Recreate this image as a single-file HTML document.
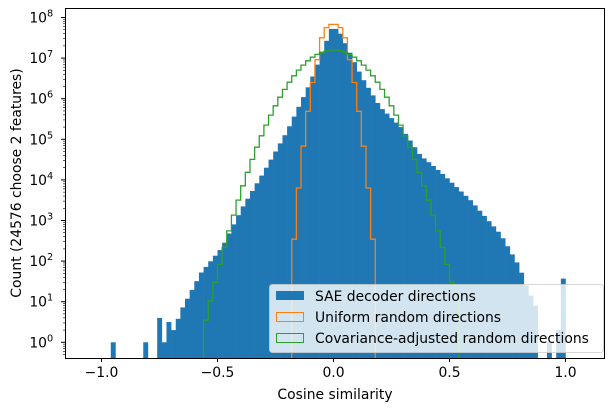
<!DOCTYPE html>
<html><head><meta charset="utf-8"><style>
body{margin:0;background:#fff;}
svg{display:block;font-family:"DejaVu Sans","Liberation Sans",sans-serif;}
</style></head><body>
<svg id="s" width="611" height="411" xmlns="http://www.w3.org/2000/svg"></svg>
<script>
var s=document.getElementById('s');
var X=function(v){return 333.5+v*232;};
var Y=function(l){return 342.3-l*40.6;};
var B=358;
function interp(pts,v){
 if(v<pts[0][0]||v>pts[pts.length-1][0])return null;
 for(var i=0;i<pts.length-1;i++){var a=pts[i],b=pts[i+1];
  if(v>=a[0]&&v<=b[0]){return a[1]+(b[1]-a[1])*(v-a[0])/(b[0]-a[0]);}}
 return null;}
var blue=[[-0.69,0.3],[-0.65,0.86],[-0.57,1.72],[-0.48,2.34],[-0.395,3.3],[-0.3,4.2],[-0.2,5.2],[-0.1,6.4],[-0.01,7.72],[0.01,7.72],[0.03,7.6],[0.12,6.55],[0.2,5.8],[0.29,5.3],[0.375,4.6],[0.46,4.2],[0.59,3.5],[0.72,2.66],[0.8,1.87],[0.83,1.4],[0.87,0.9],[0.89,0.3]];
var extra={"-0.95":0,"-0.81":0,"-0.75":0.6,"-0.73":0,"-0.71":0.5,"0.93":0,"0.97":0.3,"0.99":1.57};
var h='';
for(var i=0;i<100;i++){
 var a=-1+i*0.02,c=a+0.01,k=c.toFixed(2);
 var l=interp(blue,c); if(extra[k]!==undefined)l=extra[k];
 if(l===null)continue;
 var y=Y(l);
 h+='<rect x="'+X(a).toFixed(2)+'" y="'+y.toFixed(1)+'" width="'+(0.02*232+0.3).toFixed(2)+'" height="'+(B-y).toFixed(1)+'" fill="#1f77b4"/>';
}
function stepArr(vals,lo,col){
 var d='M'+X(lo).toFixed(2)+' '+B,v=lo;
 for(var i=0;i<vals.length;i++){var y=Y(vals[i]).toFixed(1);
  d+=' L'+X(v).toFixed(2)+' '+y+' L'+X(v+0.02).toFixed(2)+' '+y;v+=0.02;}
 d+=' L'+X(v).toFixed(2)+' '+B;
 return '<path d="'+d+'" fill="none" stroke="'+col+'" stroke-width="1.3"/>';}
h+=stepArr([2.54,3.8,4.83,5.69,6.4,6.96,7.5,7.75,7.83,7.83,7.75,7.5,6.96,6.4,5.69,4.83,3.8,2.54],-0.18,'#ff7f0e');
var g=[];for(var v=-0.56;v<0.539;v+=0.02){var c=v+0.01;g.push(Math.max(0.15,7.2-22*c*c));}
h+=stepArr(g,-0.56,'#2ca02c');
var F='13.9';
h+='<rect x="65.5" y="8.5" width="539" height="350" fill="none" stroke="#000" stroke-width="1"/>';
var xt=[-1,-0.5,0,0.5,1],xl=['\u22121.0','\u22120.5','0.0','0.5','1.0'];
for(var i=0;i<5;i++){var x=X(xt[i]);h+='<line x1="'+x+'" y1="358" x2="'+x+'" y2="362" stroke="#000"/>';
 h+='<text x="'+x+'" y="377" font-size="'+F+'" text-anchor="middle">'+xl[i]+'</text>';}
for(var e=0;e<=8;e++){var y=Y(e);h+='<line x1="61" y1="'+y+'" x2="65" y2="'+y+'" stroke="#000"/>';
 h+='<text x="47" y="'+(y+5)+'" font-size="'+F+'" text-anchor="end">10</text><text x="47" y="'+(y-1)+'" font-size="9.7">'+e+'</text>';}
for(var e=-1;e<9;e++){for(var m=2;m<10;m++){var y=Y(e+Math.log10(m));if(y<9||y>358)continue;h+='<line x1="63" y1="'+y+'" x2="65" y2="'+y+'" stroke="#000" stroke-width="0.6"/>';}}
h+='<text x="335" y="399" font-size="'+F+'" text-anchor="middle">Cosine similarity</text>';
h+='<text transform="translate(21,183) rotate(-90)" font-size="'+F+'" text-anchor="middle">Count (24576 choose 2 features)</text>';
h+='<rect x="269.5" y="284.5" width="334" height="68" rx="3" fill="#fff" fill-opacity="0.8" stroke="#ccc" stroke-opacity="0.8"/>';
h+='<rect x="276" y="291" width="28" height="9" fill="#1f77b4"/>';
h+='<rect x="276.5" y="312.5" width="27" height="9" fill="none" stroke="#ff7f0e"/>';
h+='<rect x="276.5" y="333.5" width="27" height="9" fill="none" stroke="#2ca02c"/>';
h+='<text x="315" y="301" font-size="'+F+'">SAE decoder directions</text>';
h+='<text x="315" y="322" font-size="'+F+'">Uniform random directions</text>';
h+='<text x="315" y="343" font-size="'+F+'">Covariance-adjusted random directions</text>';
s.innerHTML=h;
</script>
</body></html>
